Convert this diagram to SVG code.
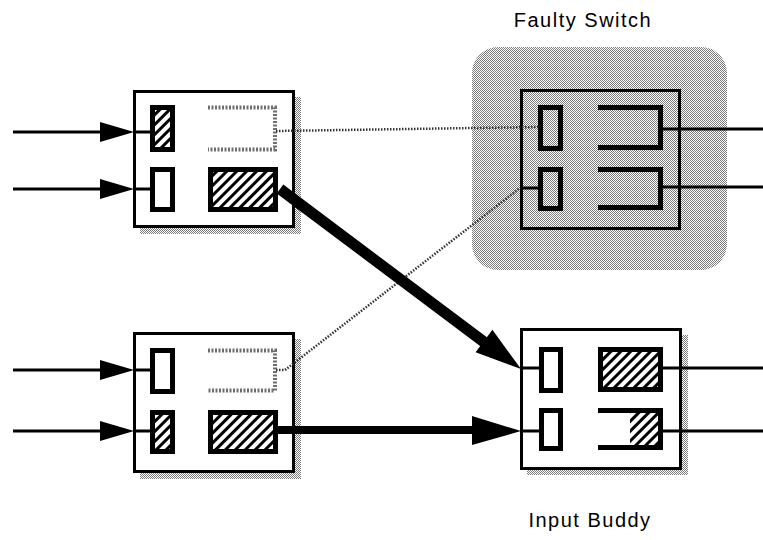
<svg xmlns="http://www.w3.org/2000/svg" width="763" height="540" viewBox="0 0 763 540">
  <defs>
    <!-- fine checker dither used for shadows and the faulty-switch backdrop -->
    <pattern id="dither" width="2" height="2" patternUnits="userSpaceOnUse">
      <rect width="2" height="2" fill="#ffffff"/>
      <rect x="0" y="0" width="1" height="1" fill="#7a7a7a"/>
      <rect x="1" y="1" width="1" height="1" fill="#7a7a7a"/>
    </pattern>
    <!-- diagonal hatch for occupied buffers -->
    <pattern id="hatch" width="7" height="7" patternUnits="userSpaceOnUse" patternTransform="rotate(45)">
      <rect width="7" height="7" fill="#ffffff"/>
      <rect width="3" height="7" fill="#000000"/>
    </pattern>
  </defs>
  <style>
    .box { fill: #ffffff; stroke: #000; stroke-width: 3; }
    .shadow { fill: url(#dither); }
    .buf { fill: #ffffff; stroke: #000; stroke-width: 5; }
    .buf-hatch { fill: url(#hatch); stroke: #000; stroke-width: 5; }
    .buf-open { fill: none; stroke: #000; stroke-width: 5; }
    .buf-idle { fill: none; stroke: #6e6e6e; stroke-width: 4; stroke-dasharray: 2 1.5; }
    .wire { fill: none; stroke: #000; stroke-width: 3; }
    .dotted { fill: none; stroke: #333; stroke-width: 2.5; stroke-dasharray: 1.5 1.5; }
    .head { fill: #000; }
    .label { font-family: "Liberation Sans", Arial, sans-serif; font-size: 20px; letter-spacing: 1.5px; fill: #000; text-anchor: middle; }
  </style>

  <!-- faulty switch, top right -->
  <g id="faulty-switch">
    <rect x="472" y="47" width="255" height="223" rx="26" fill="url(#dither)"/>
    <rect x="521.5" y="90.5" width="158" height="138" fill="none" stroke="#000" stroke-width="3"/>
    <path class="wire" d="M520,188 H540"/>
    <rect class="buf-open" x="540.5" y="107.5" width="20" height="41"/>
    <rect class="buf-open" x="540.5" y="169.5" width="20" height="39"/>
    <path class="buf-open" d="M598,107.5 H660.5 V147.5 H598"/>
    <path class="buf-open" d="M598,169.5 H660.5 V207.5 H598"/>
    <path class="wire" d="M663,129 H763 M663,187 H763"/>
    <text class="label" x="583" y="27">Faulty Switch</text>
  </g>

  <!-- upstream switch, top left -->
  <g id="switch-top-left">
    <rect class="shadow" x="140" y="97" width="161" height="137"/>
    <rect class="box" x="134.5" y="91.5" width="159" height="135"/>
    <path class="wire" d="M133,132 H152 M133,189 H152"/>
    <rect class="buf-hatch" x="152.5" y="107.5" width="20" height="42"/>
    <rect class="buf" x="152.5" y="169.5" width="20" height="40"/>
    <path class="buf-idle" d="M208,107.5 H275 V149.5 H208"/>
    <rect class="buf-hatch" x="210.5" y="169.5" width="65" height="40"/>
  </g>

  <!-- upstream switch, bottom left -->
  <g id="switch-bottom-left">
    <rect class="shadow" x="140" y="339" width="161" height="140"/>
    <rect class="box" x="134.5" y="333.5" width="159" height="138"/>
    <path class="wire" d="M133,370 H152 M133,431 H152"/>
    <rect class="buf" x="152.5" y="350.5" width="20" height="41"/>
    <rect class="buf-hatch" x="152.5" y="412.5" width="20" height="39"/>
    <path class="buf-idle" d="M208,350.5 H275 V390.5 H208"/>
    <rect class="buf-hatch" x="210.5" y="412.5" width="65" height="39"/>
  </g>

  <!-- input buddy, bottom right -->
  <g id="input-buddy">
    <rect class="shadow" x="527" y="335" width="161" height="140"/>
    <rect class="box" x="521.5" y="329.5" width="159" height="139"/>
    <path class="wire" d="M520,368 H542 M520,431 H542"/>
    <rect class="buf" x="541.5" y="349.5" width="19" height="41"/>
    <rect class="buf" x="541.5" y="410.5" width="19" height="38"/>
    <rect class="buf-hatch" x="600.5" y="349.5" width="60" height="40"/>
    <rect x="630" y="413" width="28" height="32" fill="url(#hatch)"/>
    <path class="buf-open" d="M598,410.5 H660.5 V447.5 H598"/>
    <path class="wire" d="M663,368 H763 M663,431 H763"/>
    <text class="label" x="590" y="527">Input Buddy</text>
  </g>

  <!-- links between switches -->
  <g id="connectors">
    <!-- external inputs -->
    <path class="wire" d="M13,132 H104 M13,189 H104 M13,370 H104 M13,431 H104"/>
    <polygon class="head" points="100,122 134,132 100,142"/>
    <polygon class="head" points="100,179 134,189 100,199"/>
    <polygon class="head" points="100,360 134,370 100,380"/>
    <polygon class="head" points="100,421 134,431 100,441"/>
    <!-- idle paths toward the faulty switch -->
    <path class="dotted" d="M276,131 L540,127"/>
    <path class="dotted" d="M276,370 H285 L520,188"/>
    <!-- rerouted traffic into the input buddy -->
    <path d="M280,189 L488,345" stroke="#000" stroke-width="11" fill="none"/>
    <polygon class="head" points="475.6,352.2 521,369 492.4,329.8"/>
    <path d="M277,430 H478" stroke="#000" stroke-width="8" fill="none"/>
    <polygon class="head" points="472,416 521,431 472,445"/>
  </g>
</svg>
